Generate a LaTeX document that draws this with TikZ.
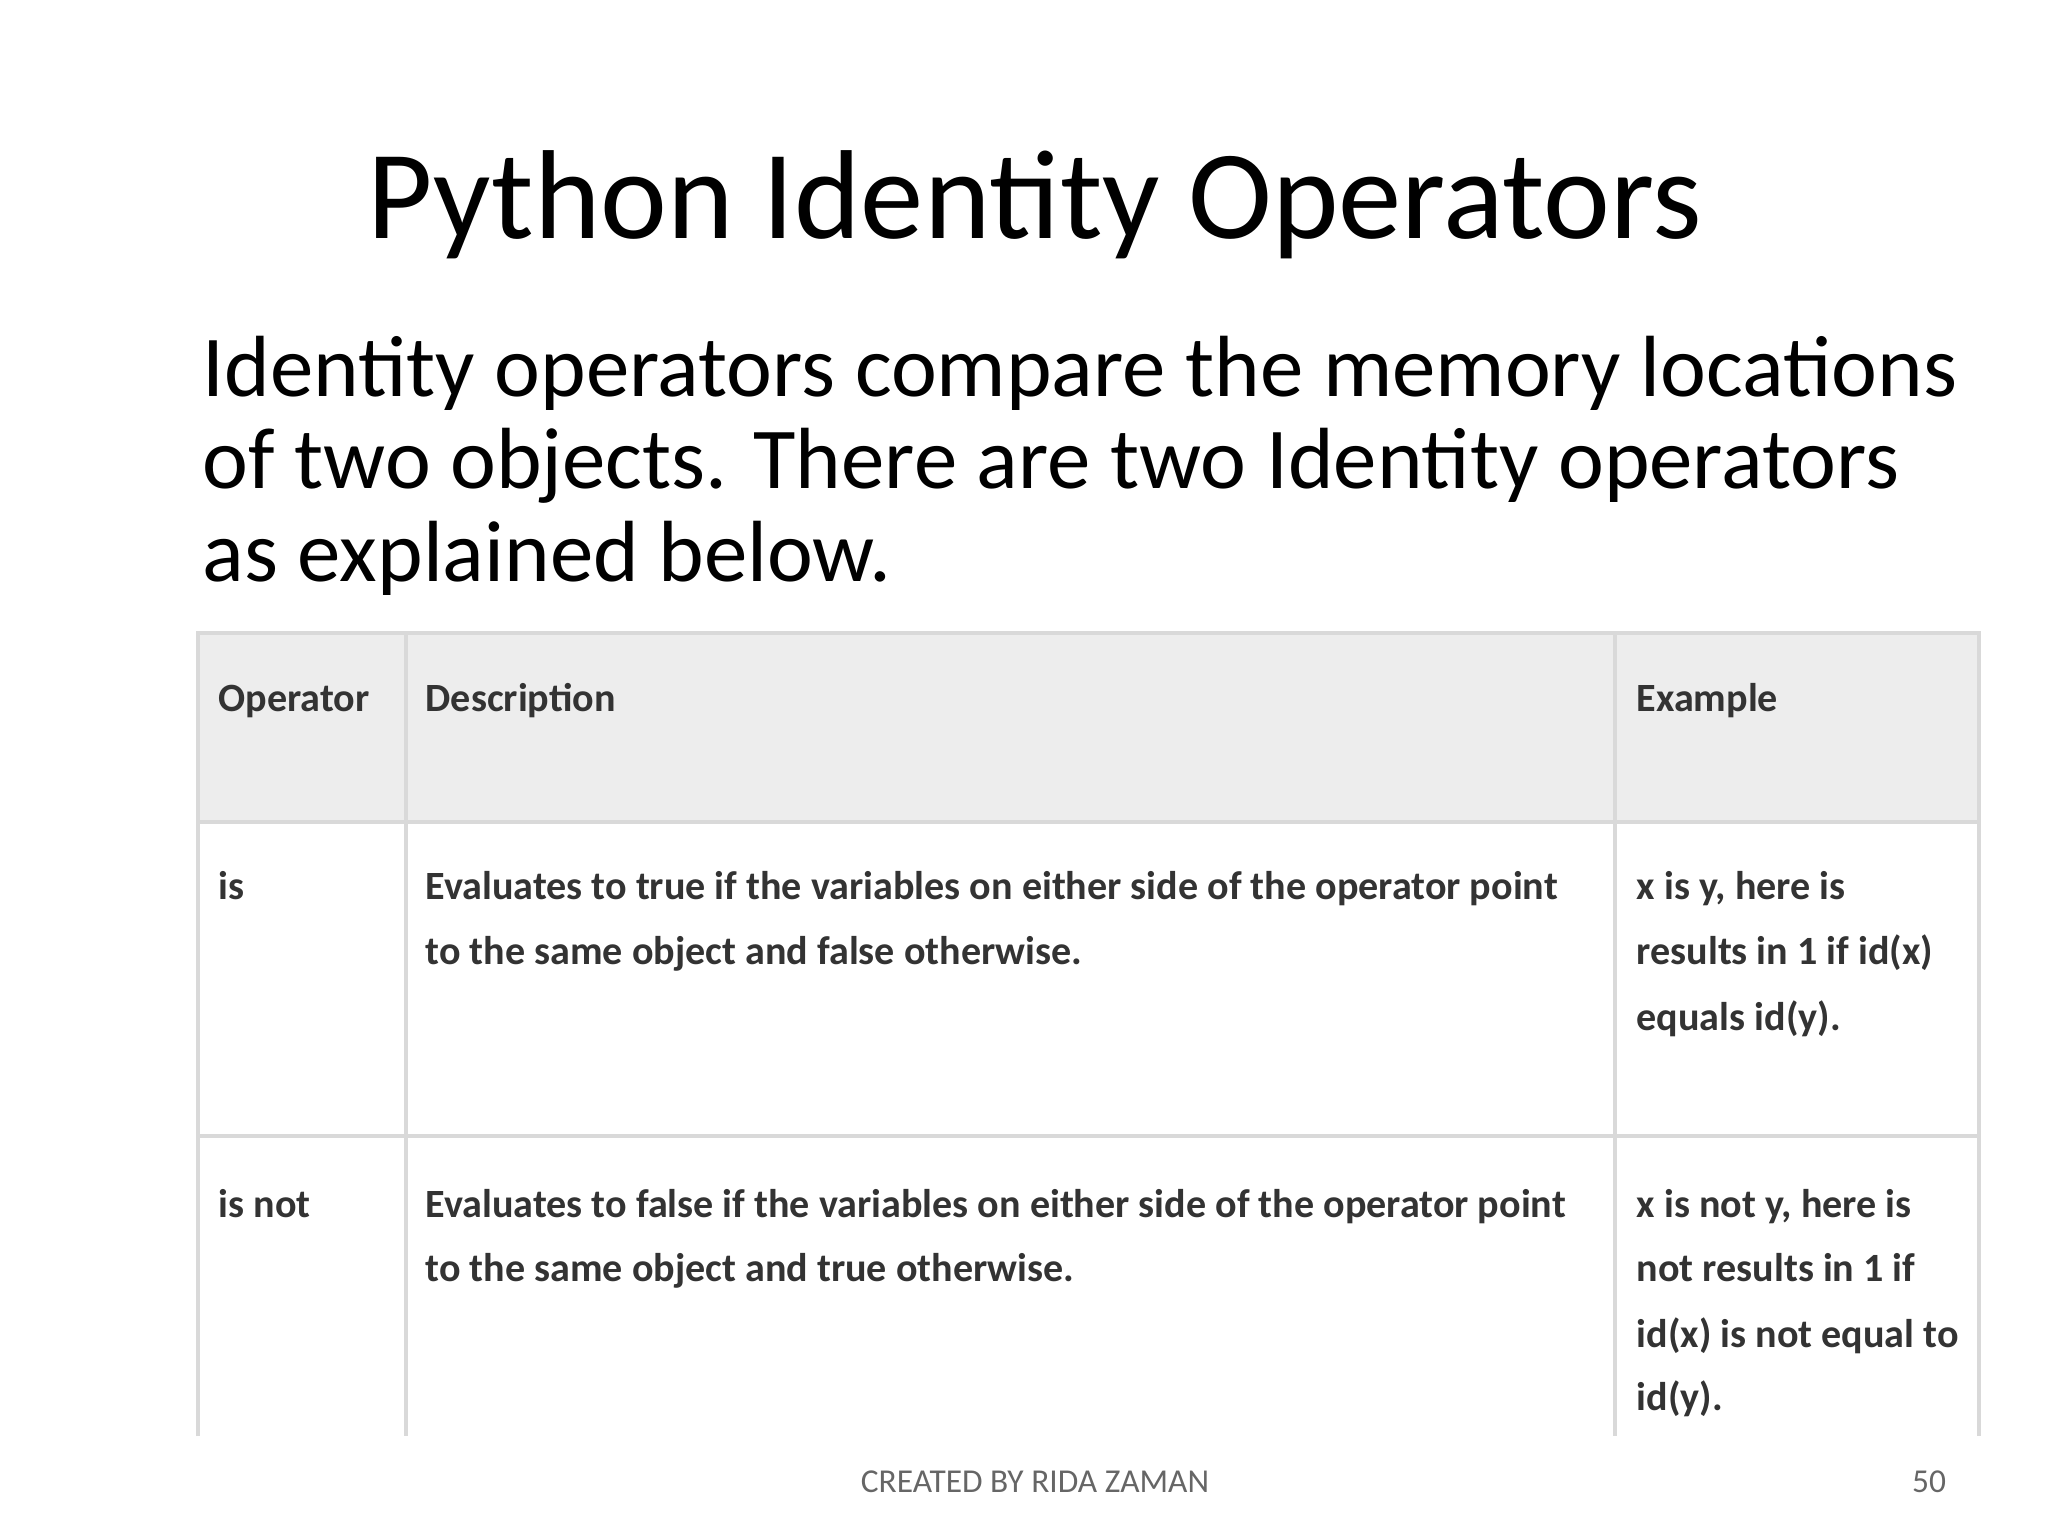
\documentclass[tikz,border=0pt]{standalone}
\usepackage{fontspec}
\setmainfont{Carlito}
\begin{document}
\begin{tikzpicture}[x=0.01cm,y=-0.01cm,
  tb/.style={anchor=base west,inner sep=0,font=\fontsize{11.4}{14}\selectfont\bfseries,text=black!80},
  ln/.style={draw=black!15,line width=1.2pt}]
\useasboundingbox (0,0) rectangle (2048,1536);
\node[anchor=base,inner sep=0,font=\fontsize{36}{44}\selectfont] (title) at (1035,238) {Python Identity Operators};
\node[anchor=base west,inner sep=0,font=\fontsize{24.7}{30}\selectfont] (l1) at (202,396) {Identity operators compare the memory locations};
\node[anchor=base west,inner sep=0,font=\fontsize{24.7}{30}\selectfont] (l2) at (202,488) {of two objects. There are two Identity operators};
\node[anchor=base west,inner sep=0,font=\fontsize{24.7}{30}\selectfont] (l3) at (202,581) {as explained below.};
\fill[black!7] (198,633) rectangle (1979,822);
\draw[ln] (198,1436) -- (198,633) -- (1979,633) -- (1979,1436);
\draw[ln] (198,822) -- (1979,822);
\draw[ln] (198,1136) -- (1979,1136);
\draw[ln] (406,633) -- (406,1436);
\draw[ln] (1615,633) -- (1615,1436);
\node[tb] (h1) at (218,711) {Operator};
\node[tb] (h2) at (425,711) {Description};
\node[tb] (h3) at (1636,711) {Example};
\node[tb] (a1) at (218,899) {is};
\node[tb] (a2) at (425,899) {Evaluates to true if the variables on either side of the operator point};
\node[tb] (a3) at (425,964) {to the same object and false otherwise.};
\node[tb] (a4) at (1636,899) {x is y, here is};
\node[tb] (a5) at (1636,964) {results in 1 if id(x)};
\node[tb] (a6) at (1636,1030) {equals id(y).};
\node[tb] (b1) at (218,1217) {is not};
\node[tb] (b2) at (425,1217) {Evaluates to false if the variables on either side of the operator point};
\node[tb] (b3) at (425,1281) {to the same object and true otherwise.};
\node[tb] (b4) at (1636,1217) {x is not y, here is};
\node[tb] (b5) at (1636,1281) {not results in 1 if};
\node[tb] (b6) at (1636,1347) {id(x) is not equal to};
\node[tb] (b7) at (1636,1410) {id(y).};
\node[anchor=base,inner sep=0,font=\fontsize{9.5}{11}\selectfont,text=black!60] (ft) at (1035,1492) {CREATED BY RIDA ZAMAN};
\node[anchor=base,inner sep=0,font=\fontsize{9.5}{11}\selectfont,text=black!60] (pg) at (1929,1492) {50};
\end{tikzpicture}
\end{document}
